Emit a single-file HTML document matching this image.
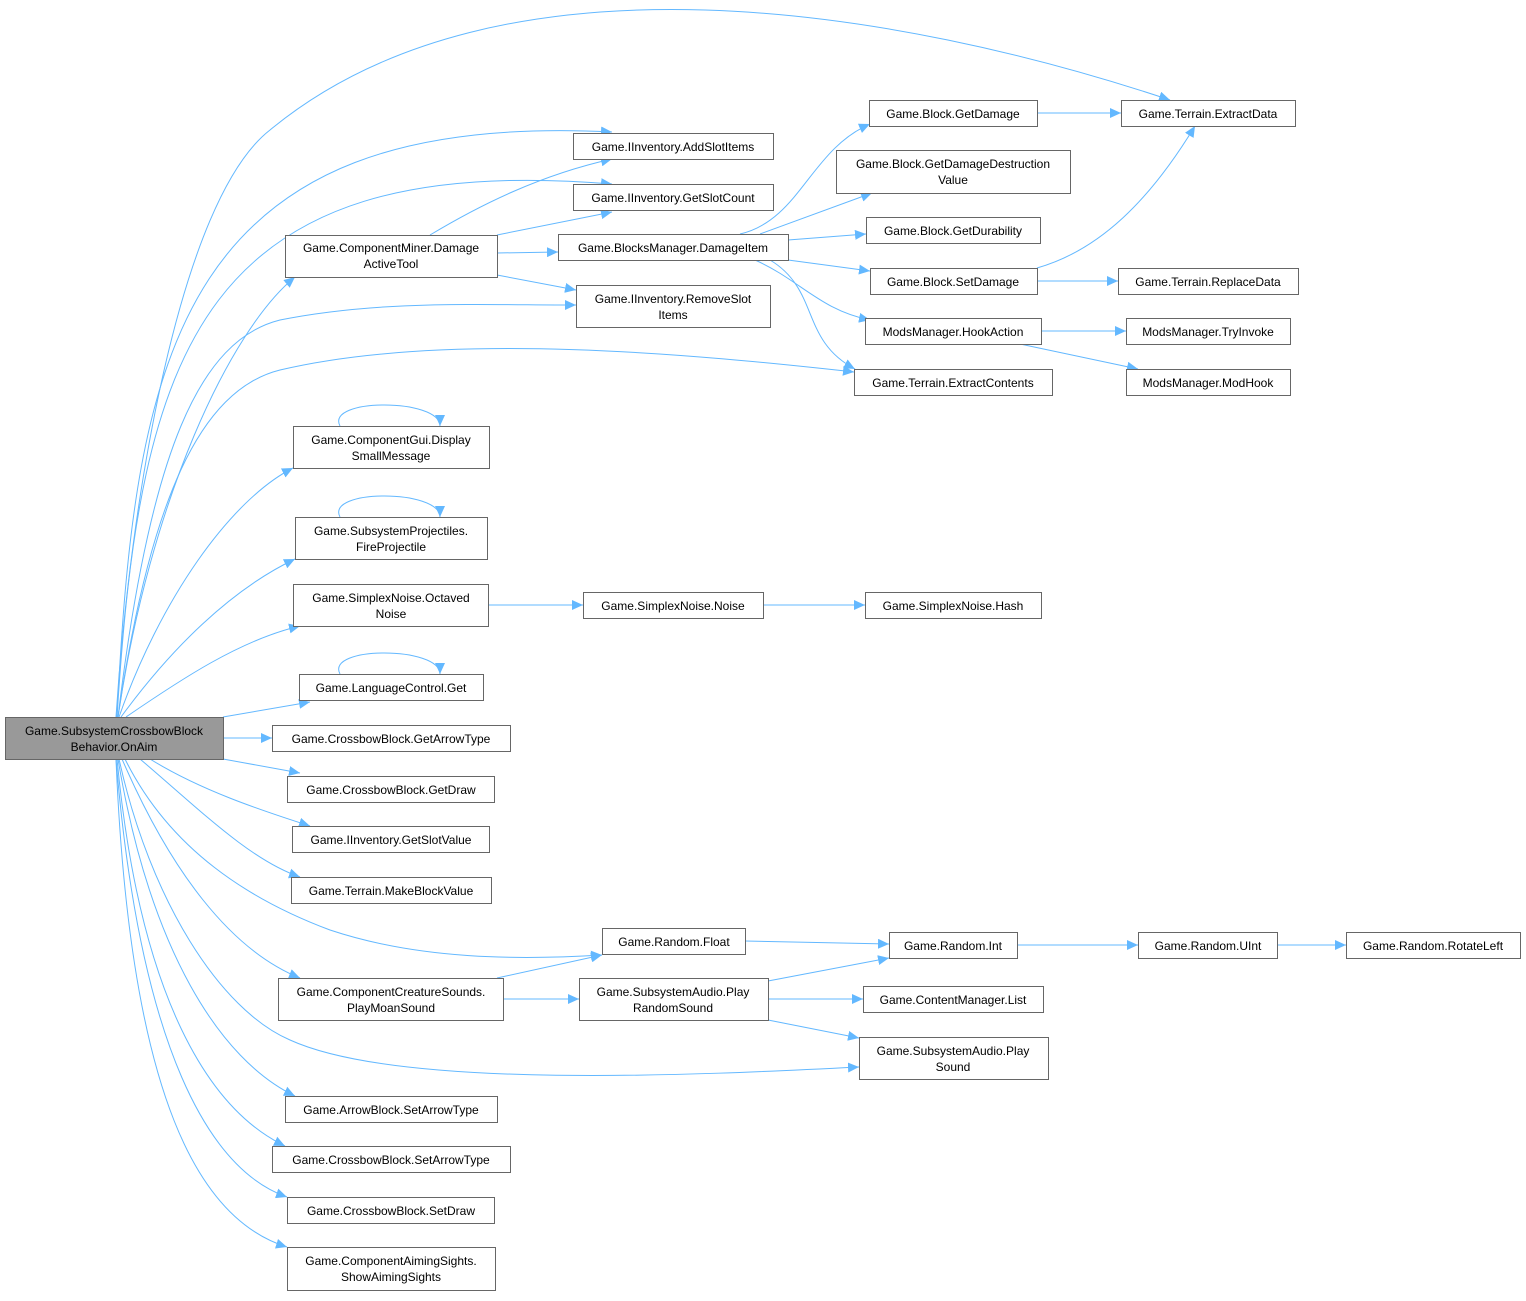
<!DOCTYPE html>
<html><head><meta charset="utf-8"><style>
html,body{margin:0;padding:0;background:#fff;}
svg text{font-family:"Liberation Sans",Arial,sans-serif;font-size:12px;fill:#000;}
</style></head><body>
<svg width="1526" height="1296" viewBox="0 0 1526 1296" xmlns="http://www.w3.org/2000/svg">
<defs><marker id="a" markerWidth="12" markerHeight="10" refX="11" refY="5" orient="auto" markerUnits="userSpaceOnUse"><path d="M0,0 L11,5 L0,10 z" fill="#63b8ff"/></marker></defs>
<g fill="none" stroke="#63b8ff" stroke-width="1" marker-end="url(#a)">
<path d="M116,717 C130,500 180,200 270,130 C500,-60 900,10 1170,100"/>
<path d="M117,717 C135,350 180,110 612,132"/>
<path d="M117,717 C140,350 200,150 612,184"/>
<path d="M118,717 C150,500 230,330 295,277"/>
<path d="M118,717 C150,450 200,340 280,320 C380,300 480,305 576,305"/>
<path d="M118,717 C150,500 200,390 280,370 C450,330 700,355 854,372"/>
<path d="M119,717 C160,600 230,500 293,468"/>
<path d="M121,717 C170,650 230,590 295,559"/>
<path d="M126,717 C180,680 240,640 300,626"/>
<path d="M223,717 L310,702"/>
<path d="M223,738 L272,738"/>
<path d="M223,759 L300,773"/>
<path d="M150,759 C200,790 260,810 310,826"/>
<path d="M140,759 C200,810 250,860 300,877"/>
<path d="M125,759 C170,850 250,900 330,930 C420,960 520,960 602,955"/>
<path d="M122,759 C170,870 230,950 300,978"/>
<path d="M119,759 C150,900 220,1010 290,1040 C400,1090 700,1075 859,1067"/>
<path d="M118,759 C150,950 220,1060 295,1096"/>
<path d="M117,759 C140,1000 210,1110 285,1146"/>
<path d="M116,759 C140,1050 210,1170 287,1197"/>
<path d="M116,759 C130,1100 200,1220 287,1247"/>
<path d="M430,235 C480,205 540,175 612,159"/>
<path d="M497,235 L612,212"/>
<path d="M497,253 L558,252"/>
<path d="M497,275 L576,290"/>
<path d="M740,234 C800,220 810,150 870,124"/>
<path d="M760,234 L872,193"/>
<path d="M788,240 L866,234"/>
<path d="M788,260 L870,271"/>
<path d="M755,260 C800,280 820,310 870,320"/>
<path d="M770,260 C820,290 800,340 855,369"/>
<path d="M1037,113 L1121,113"/>
<path d="M1037,268 C1100,250 1150,200 1195,126"/>
<path d="M1037,281 L1118,281"/>
<path d="M1041,331 L1126,331"/>
<path d="M1020,344 L1138,369"/>
<path d="M340,426 C325,398 440,398 440,426"/>
<path d="M340,517 C325,489 440,489 440,517"/>
<path d="M340,674 C325,646 440,646 440,674"/>
<path d="M488,605 L583,605"/>
<path d="M763,605 L865,605"/>
<path d="M745,941 L889,944"/>
<path d="M1017,945 L1138,945"/>
<path d="M1277,945 L1346,945"/>
<path d="M497,978 L602,955"/>
<path d="M503,999 L579,999"/>
<path d="M768,981 L889,958"/>
<path d="M768,999 L863,999"/>
<path d="M768,1020 L859,1038"/>
</g>
<g stroke="#666" fill="#fff">
<rect x="5.5" y="717.5" width="218" height="42" fill="#999"/>
<rect x="1121.5" y="100.5" width="174" height="26"/>
<rect x="573.5" y="133.5" width="200" height="26"/>
<rect x="573.5" y="184.5" width="200" height="26"/>
<rect x="285.5" y="235.5" width="212" height="42"/>
<rect x="558.5" y="234.5" width="230" height="26"/>
<rect x="576.5" y="285.5" width="194" height="42"/>
<rect x="854.5" y="369.5" width="198" height="26"/>
<rect x="869.5" y="100.5" width="168" height="26"/>
<rect x="836.5" y="150.5" width="234" height="43"/>
<rect x="866.5" y="217.5" width="174" height="26"/>
<rect x="870.5" y="268.5" width="167" height="26"/>
<rect x="1118.5" y="268.5" width="180" height="26"/>
<rect x="865.5" y="318.5" width="176" height="26"/>
<rect x="1126.5" y="318.5" width="164" height="26"/>
<rect x="1126.5" y="369.5" width="164" height="26"/>
<rect x="293.5" y="426.5" width="196" height="42"/>
<rect x="295.5" y="517.5" width="192" height="42"/>
<rect x="293.5" y="584.5" width="195" height="42"/>
<rect x="583.5" y="592.5" width="180" height="26"/>
<rect x="865.5" y="592.5" width="176" height="26"/>
<rect x="299.5" y="674.5" width="184" height="26"/>
<rect x="272.5" y="725.5" width="238" height="26"/>
<rect x="287.5" y="776.5" width="207" height="26"/>
<rect x="292.5" y="826.5" width="197" height="26"/>
<rect x="291.5" y="877.5" width="200" height="26"/>
<rect x="602.5" y="928.5" width="143" height="26"/>
<rect x="889.5" y="932.5" width="128" height="26"/>
<rect x="1138.5" y="932.5" width="139" height="26"/>
<rect x="1346.5" y="932.5" width="174" height="26"/>
<rect x="278.5" y="978.5" width="225" height="42"/>
<rect x="579.5" y="978.5" width="189" height="42"/>
<rect x="863.5" y="986.5" width="180" height="26"/>
<rect x="859.5" y="1037.5" width="189" height="42"/>
<rect x="285.5" y="1096.5" width="212" height="26"/>
<rect x="272.5" y="1146.5" width="238" height="26"/>
<rect x="287.5" y="1197.5" width="207" height="26"/>
<rect x="287.5" y="1247.5" width="208" height="43"/>
</g>
<g text-anchor="middle">
<text x="114" y="735">Game.SubsystemCrossbowBlock</text><text x="114" y="751">Behavior.OnAim</text>
<text x="1208" y="118">Game.Terrain.ExtractData</text>
<text x="673" y="151">Game.IInventory.AddSlotItems</text>
<text x="673" y="202">Game.IInventory.GetSlotCount</text>
<text x="391" y="252">Game.ComponentMiner.Damage</text><text x="391" y="268">ActiveTool</text>
<text x="673" y="252">Game.BlocksManager.DamageItem</text>
<text x="673" y="303">Game.IInventory.RemoveSlot</text><text x="673" y="319">Items</text>
<text x="953" y="387">Game.Terrain.ExtractContents</text>
<text x="953" y="118">Game.Block.GetDamage</text>
<text x="953" y="168">Game.Block.GetDamageDestruction</text><text x="953" y="184">Value</text>
<text x="953" y="235">Game.Block.GetDurability</text>
<text x="953" y="286">Game.Block.SetDamage</text>
<text x="1208" y="286">Game.Terrain.ReplaceData</text>
<text x="953" y="336">ModsManager.HookAction</text>
<text x="1208" y="336">ModsManager.TryInvoke</text>
<text x="1208" y="387">ModsManager.ModHook</text>
<text x="391" y="444">Game.ComponentGui.Display</text><text x="391" y="460">SmallMessage</text>
<text x="391" y="535">Game.SubsystemProjectiles.</text><text x="391" y="551">FireProjectile</text>
<text x="391" y="602">Game.SimplexNoise.Octaved</text><text x="391" y="618">Noise</text>
<text x="673" y="610">Game.SimplexNoise.Noise</text>
<text x="953" y="610">Game.SimplexNoise.Hash</text>
<text x="391" y="692">Game.LanguageControl.Get</text>
<text x="391" y="743">Game.CrossbowBlock.GetArrowType</text>
<text x="391" y="794">Game.CrossbowBlock.GetDraw</text>
<text x="391" y="844">Game.IInventory.GetSlotValue</text>
<text x="391" y="895">Game.Terrain.MakeBlockValue</text>
<text x="674" y="946">Game.Random.Float</text>
<text x="953" y="950">Game.Random.Int</text>
<text x="1208" y="950">Game.Random.UInt</text>
<text x="1433" y="950">Game.Random.RotateLeft</text>
<text x="391" y="996">Game.ComponentCreatureSounds.</text><text x="391" y="1012">PlayMoanSound</text>
<text x="673" y="996">Game.SubsystemAudio.Play</text><text x="673" y="1012">RandomSound</text>
<text x="953" y="1004">Game.ContentManager.List</text>
<text x="953" y="1055">Game.SubsystemAudio.Play</text><text x="953" y="1071">Sound</text>
<text x="391" y="1114">Game.ArrowBlock.SetArrowType</text>
<text x="391" y="1164">Game.CrossbowBlock.SetArrowType</text>
<text x="391" y="1215">Game.CrossbowBlock.SetDraw</text>
<text x="391" y="1265">Game.ComponentAimingSights.</text><text x="391" y="1281">ShowAimingSights</text>
</g>
</svg>
</body></html>
